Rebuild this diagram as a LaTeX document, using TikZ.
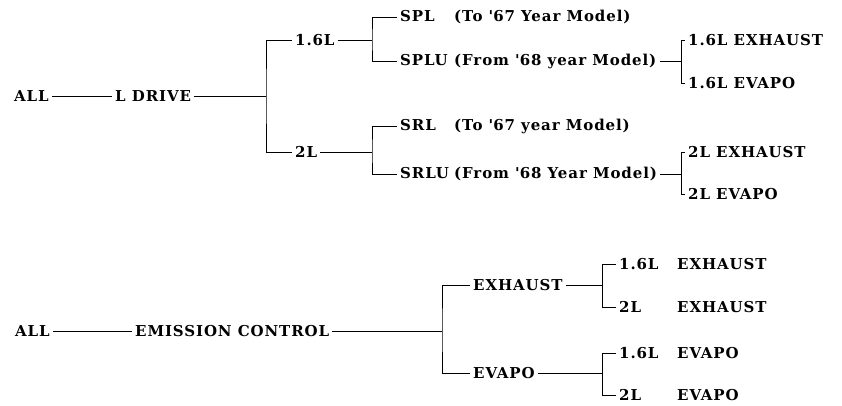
\documentclass[tikz,border=0pt]{standalone}
\usepackage{fontspec}
\setmainfont{DejaVu Serif}[LetterSpace=6]
\usepackage{tikz}
\usetikzlibrary{calc}

\newcommand{\modelcode}[1]{\makebox[54pt][l]{#1}}
\newcommand{\enginecol}[1]{\makebox[58pt][l]{#1}}
\newcommand{\yr}[1]{\textquotesingle#1}

\begin{document}
\begin{tikzpicture}[x=1pt, y=-1pt,
      lbl/.style={anchor=west, inner xsep=3pt, inner ysep=1pt,
                  font=\fontsize{15}{17}\selectfont\bfseries},
      link/.style={line width=1pt}
    ]
      \useasboundingbox (0,0) rectangle (842,405);
      % L drive tree
      \node[lbl] (all1) at (11,96) {ALL};
      \node[lbl] (ldrive) at (112,96) {L DRIVE};
      \coordinate (b1) at (266,96);
      \node[lbl] (l16) at (292,40) {1.6L};
      \node[lbl] (l2) at (292,152) {2L};
      \coordinate (b2) at (372,40);
      \coordinate (b3) at (372,152);
      \node[lbl] (spl) at (397,17) {\modelcode{SPL}(To \yr{67} Year Model)};
      \node[lbl] (splu) at (397,61) {\modelcode{SPLU}(From \yr{68} year Model)};
      \node[lbl] (srl) at (397,126) {\modelcode{SRL}(To \yr{67} year Model)};
      \node[lbl] (srlu) at (397,174) {\modelcode{SRLU}(From \yr{68} Year Model)};
      \coordinate (b4) at (681,61);
      \coordinate (b5) at (681,174);
      \node[lbl] (ex16) at (685,40) {1.6L EXHAUST};
      \node[lbl] (ev16) at (685,83) {1.6L EVAPO};
      \node[lbl] (ex2) at (685,152) {2L EXHAUST};
      \node[lbl] (ev2) at (685,194) {2L EVAPO};
      \draw[link] (all1) -- (ldrive);
      \draw[link] (ldrive.east) -- (b1);
      \draw[link] (l16.west) -| (b1) |- (l2.west);
      \draw[link] (l16.east) -- (b2);
      \draw[link] (spl.west) -| (b2) |- (splu.west);
      \draw[link] (l2.east) -- (b3);
      \draw[link] (srl.west) -| (b3) |- (srlu.west);
      \draw[link] (splu.east) -- (b4);
      \draw[link] (ex16.west) -| (b4) |- (ev16.west);
      \draw[link] (srlu.east) -- (b5);
      \draw[link] (ex2.west) -| (b5) |- (ev2.west);
      % emission control tree
      \node[lbl] (all2) at (12,331) {ALL};
      \node[lbl] (emis) at (132,331) {EMISSION CONTROL};
      \coordinate (b6) at (442,331);
      \node[lbl] (exh) at (470,285) {EXHAUST};
      \node[lbl] (eva) at (470,373) {EVAPO};
      \coordinate (b7) at (602,285);
      \coordinate (b8) at (602,373);
      \node[lbl] (exa) at (616,264) {\enginecol{1.6L}EXHAUST};
      \node[lbl] (exb) at (616,307) {\enginecol{2L}EXHAUST};
      \node[lbl] (eva1) at (616,353) {\enginecol{1.6L}EVAPO};
      \node[lbl] (eva2) at (616,395) {\enginecol{2L}EVAPO};
      \draw[link] (all2) -- (emis);
      \draw[link] (emis.east) -- (b6);
      \draw[link] (exh.west) -| (b6) |- (eva.west);
      \draw[link] (exh.east) -- (b7);
      \draw[link] (exa.west) -| (b7) |- (exb.west);
      \draw[link] (eva.east) -- (b8);
      \draw[link] (eva1.west) -| (b8) |- (eva2.west);
    \end{tikzpicture}
\end{document}
